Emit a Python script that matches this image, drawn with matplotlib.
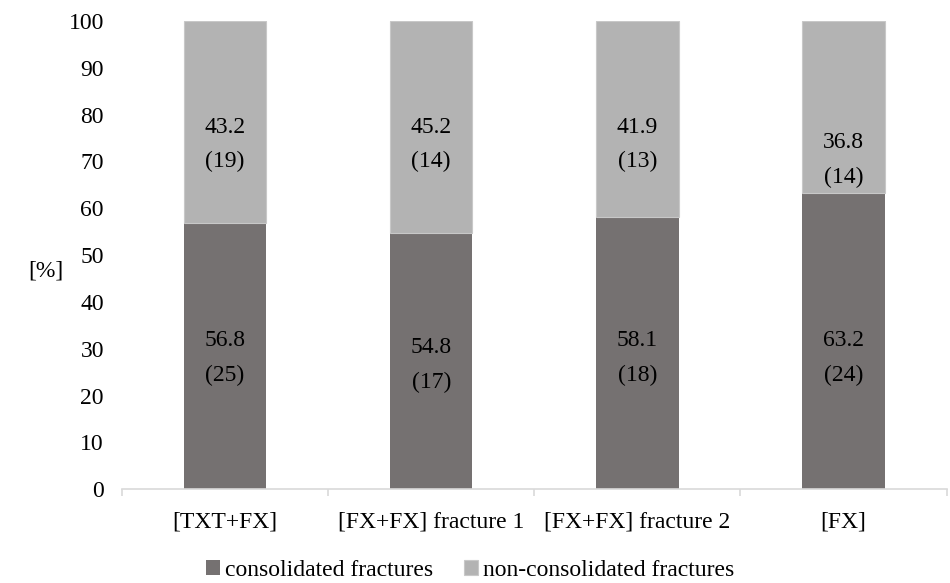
import matplotlib
matplotlib.use("Agg")
import matplotlib.pyplot as plt
import numpy as np

categories = ["[TXT+FX]", "[FX+FX] fracture 1", "[FX+FX] fracture 2", "[FX]"]
consolidated = [56.8, 54.8, 58.1, 63.2]
consolidated_n = [25, 17, 18, 24]
non_consolidated = [43.2, 45.2, 41.9, 36.8]
non_consolidated_n = [19, 14, 13, 14]

# where the labels sit (value on the y scale), as placed in the original
label_y_bottom = [28.0, 26.5, 28.0, 28.0]
label_y_top = [73.6, 73.6, 73.6, 70.3]

plt.rcParams['font.family'] = ['Liberation Serif', 'DejaVu Serif']
plt.rcParams['font.size'] = 17

dark = "#757171"
light = "#b3b3b3"

fig = plt.figure(figsize=(9.5, 5.83), dpi=100)
ax = fig.add_axes([0.1284, 0.161, 0.868, 0.803])

x = np.arange(len(categories))
w = 0.40
ax.bar(x, consolidated, w, color=dark, label="consolidated fractures")
ax.bar(x, non_consolidated, w, bottom=consolidated, color=light,
       edgecolor="#c8c8c8", linewidth=0.8, label="non-consolidated fractures")

for i in range(len(categories)):
    ax.text(x[i], label_y_bottom[i], "%.1f\n(%d)" % (consolidated[i], consolidated_n[i]),
            ha="center", va="center", linespacing=1.85)
    ax.text(x[i], label_y_top[i], "%.1f\n(%d)" % (non_consolidated[i], non_consolidated_n[i]),
            ha="center", va="center", linespacing=1.85)

ax.set_xlim(-0.5, len(categories) - 0.5)
ax.set_ylim(0, 100)
ax.set_yticks(range(0, 101, 10))
ax.set_xticks(x)
ax.set_xticklabels(categories)
ax.tick_params(axis="y", length=0, pad=13)
ax.tick_params(axis="x", length=0, pad=16)
ax.set_xticks(np.arange(-0.5, len(categories)), minor=True)
ax.tick_params(axis="x", which="minor", length=5, color="#d9d9d9", width=1.2)

for s in ["top", "right", "left"]:
    ax.spines[s].set_visible(False)
ax.spines["bottom"].set_color("#d9d9d9")
ax.spines["bottom"].set_linewidth(1.2)

fig.text(0.048, 0.535, "[%]", ha="center", va="center")

handles, labels = ax.get_legend_handles_labels()
fig.legend(handles, labels, loc="center", bbox_to_anchor=(0.495, 0.022), ncol=2,
           frameon=False, handlelength=0.6, handleheight=0.6, handletextpad=0.2,
           columnspacing=1.3, borderaxespad=0, borderpad=0)

fig.savefig("out.png", dpi=100)
